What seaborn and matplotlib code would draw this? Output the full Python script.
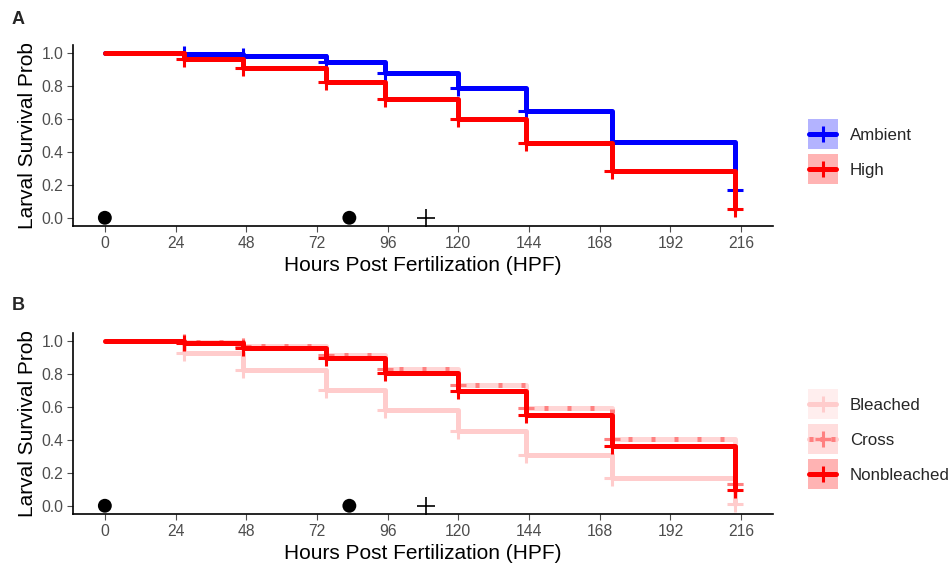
import numpy as np
import pandas as pd
import matplotlib
matplotlib.use("Agg")
import matplotlib.pyplot as plt
import seaborn as sns
from matplotlib.patches import Rectangle
from matplotlib.lines import Line2D
from matplotlib.legend_handler import HandlerBase

# step times (hours post fertilization)
times = [0, 27, 47, 75, 95, 120, 143, 172, 214]

# panel A: temperature treatment
ambient = [1.0, 0.994, 0.984, 0.95, 0.883, 0.787, 0.65, 0.463, 0.17]
high = [1.0, 0.966, 0.91, 0.824, 0.723, 0.60, 0.457, 0.283, 0.053]

# panel B: parental bleaching
bleached = [1.0, 0.927, 0.826, 0.704, 0.583, 0.453, 0.31, 0.168, 0.01]
cross = [1.0, 0.996, 0.97, 0.915, 0.832, 0.735, 0.593, 0.409, 0.134]
nonbleached = [1.0, 0.992, 0.958, 0.90, 0.81, 0.698, 0.553, 0.364, 0.093]

# black markers on the baseline
dot_times = [0, 83]
plus_times = [109]

x_ticks = [0, 24, 48, 72, 96, 120, 144, 168, 192, 216]
y_ticks = [0.0, 0.2, 0.4, 0.6, 0.8, 1.0]

sns.set_style("ticks")
plt.rcParams["font.family"] = ["Liberation Sans", "DejaVu Sans"]

LW = 3.6
MS = 11
MEW = 2.2
LEG_FS = 12.2
KEY = 21.6  # legend key size in points (30 px)
ROW = 25.2  # legend row pitch in points (35 px)


def surv_frame(groups):
    rows = []
    for name, vals in groups.items():
        for t, s in zip(times, vals):
            rows.append({"time": t, "surv": s, "group": name})
    return pd.DataFrame(rows)


def style_axes(ax):
    ax.set_xlim(-10.8, 226.8)
    ax.set_ylim(-0.05, 1.05)
    ax.set_xticks(x_ticks)
    ax.set_yticks(y_ticks)
    ax.set_yticklabels([f"{v:.1f}" for v in y_ticks])
    ax.tick_params(labelsize=11.3, colors="#4D4D4D", length=4, width=0.8, pad=3)
    ax.set_xlabel("Hours Post Fertilization (HPF)", fontsize=15, color="black", labelpad=4)
    ax.set_ylabel("Larval Survival Prob", fontsize=15, color="black", labelpad=3)
    for s in ["top", "right"]:
        ax.spines[s].set_visible(False)
    for s in ["left", "bottom"]:
        ax.spines[s].set_linewidth(1.2)
        ax.spines[s].set_color("black")
    sns.scatterplot(x=dot_times, y=[0] * len(dot_times), ax=ax, color="black",
                    s=100, edgecolor="none", zorder=5, legend=False)
    sns.scatterplot(x=plus_times, y=[0] * len(plus_times), ax=ax, color="black",
                    marker="+", s=187, linewidth=1.2, zorder=5, legend=False)


def draw_group(ax, df, name, color, ls="-", lw=LW, zorder=3):
    d = df[df["group"] == name]
    sns.lineplot(data=d, x="time", y="surv", ax=ax, color=color, lw=lw,
                 linestyle=ls, drawstyle="steps-post", estimator=None,
                 sort=False, legend=False, zorder=zorder)
    sns.scatterplot(data=d.iloc[1:], x="time", y="surv", ax=ax, color=color,
                    marker="+", s=MS ** 2, linewidth=MEW, legend=False, zorder=zorder)


class KeyHandler(HandlerBase):
    # square filled key with the step line and censor cross on top
    def create_artists(self, legend, orig_handle, xdescent, ydescent,
                       width, height, fontsize, trans):
        bg, color, ls, band = orig_handle
        cy = 0.36 * fontsize
        x0 = -xdescent
        arts = [Rectangle((x0, cy - KEY / 2), KEY, KEY, facecolor=bg,
                          edgecolor="none", transform=trans)]
        xs = [x0 + 0.05 * KEY, x0 + 0.95 * KEY]
        if band is not None:
            arts.append(Line2D(xs, [cy, cy], color=band, lw=LW, transform=trans))
        arts.append(Line2D(xs, [cy, cy], color=color, lw=LW, linestyle=ls,
                           transform=trans))
        arts.append(Line2D([x0 + KEY / 2], [cy], color=color, marker="+",
                           markersize=MS, markeredgewidth=MEW, linestyle="",
                           transform=trans))
        return arts


fig = plt.figure(figsize=(9.51, 5.67), dpi=100)
axA = fig.add_axes([0.0768, 0.6014, 0.736, 0.319])
axB = fig.add_axes([0.0768, 0.0935, 0.736, 0.319])

dfA = surv_frame({"Ambient": ambient, "High": high})
draw_group(axA, dfA, "Ambient", "#0000FF")
draw_group(axA, dfA, "High", "#FF0000")
style_axes(axA)

dfB = surv_frame({"Bleached": bleached, "Cross": cross, "Nonbleached": nonbleached})
draw_group(axB, dfB, "Bleached", "#FFCCCC", zorder=2)
draw_group(axB, dfB, "Cross", "#FFD6D6", zorder=2)
draw_group(axB, dfB, "Cross", "#FF8080", ls=(0, (0.8, 3.8)), zorder=2.5)
draw_group(axB, dfB, "Nonbleached", "#FF0000", zorder=3)
style_axes(axB)

fig.text(0.012, 0.958, "A", fontsize=13, fontweight="bold")
fig.text(0.012, 0.454, "B", fontsize=13, fontweight="bold")

# legend box row height = fs * (0.65 * handleheight + 0.245)
hh = (ROW / LEG_FS - 0.245) / 0.65
leg_kw = dict(loc="center left", frameon=False, fontsize=LEG_FS,
              handlelength=KEY / LEG_FS, handleheight=hh,
              labelspacing=0, handletextpad=0.69, borderpad=0,
              borderaxespad=0, handler_map={tuple: KeyHandler()})

legA = [("#B3B3FF", "#0000FF", "-", None), ("#FFB3B3", "#FF0000", "-", None)]
fig.legend(legA, ["Ambient", "High"], bbox_to_anchor=(0.8496, 0.7315), **leg_kw)

legB = [("#FFEEEE", "#FFCCCC", "-", None),
        ("#FFDDDD", "#FF8080", (0, (0.8, 1.4)), "#FFCCCC"),
        ("#FFB3B3", "#FF0000", "-", None)]
fig.legend(legB, ["Bleached", "Cross", "Nonbleached"],
           bbox_to_anchor=(0.8496, 0.224), **leg_kw)

fig.savefig("out.png", dpi=100)
